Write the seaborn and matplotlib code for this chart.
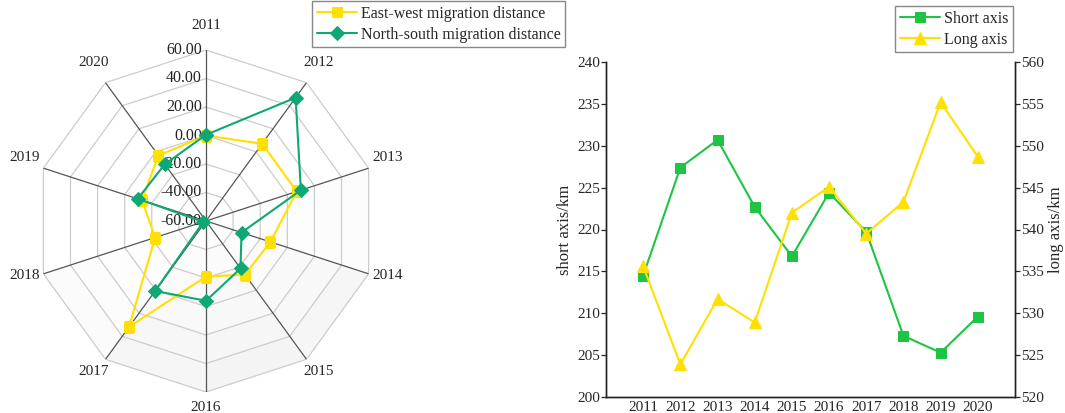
import numpy as np
import matplotlib
matplotlib.use('Agg')
import matplotlib.pyplot as plt
import seaborn as sns

# data
years = [2011, 2012, 2013, 2014, 2015, 2016, 2017, 2018, 2019, 2020]
east_west = [0.0, 7.0, 7.0, -12.5, -13.5, -21.0, 32.0, -22.5, -12.7, -3.2]
north_south = [0.5, 47.0, 10.0, -33.8, -18.8, -4.0, 0.7, -58.0, -9.6, -10.8]
radar_rings = [-60, -40, -20, 0, 20, 40, 60]

short_axis = [214.5, 227.4, 230.7, 222.7, 216.8, 224.4, 219.7, 207.3, 205.3, 209.6]
long_axis = [535.6, 523.9, 531.7, 528.9, 542.0, 545.1, 539.5, 543.3, 555.2, 548.7]

YELLOW = '#FFE000'
GREEN_RADAR = '#0FA874'
GREEN_LINE = '#1FC445'

sns.set_style('white')
plt.rcParams['font.family'] = ['Liberation Serif', 'DejaVu Serif']
plt.rcParams['axes.unicode_minus'] = True

fig = plt.figure(figsize=(10.65, 4.13), dpi=100)

# ---------------- radar ----------------
ax = fig.add_axes([35 / 1065, 1 - 392 / 413, 342 / 1065, 342 / 413], projection='polar')
ax.set_theta_zero_location('N')
ax.set_theta_direction(-1)
ax.set_ylim(-60, 60)

n = len(years)
theta = np.linspace(0, 2 * np.pi, n, endpoint=False)
theta_c = np.append(theta, 2 * np.pi)

# faint shading on the lower wedges
for i in range(n):
    t0, t1 = theta_c[i], theta_c[i + 1]
    mid = (t0 + t1) / 2
    light = max(0.0, -np.cos(mid + 0.3))
    if light <= 0.05:
        continue
    for k in range(len(radar_rings) - 1):
        r0, r1 = radar_rings[k], radar_rings[k + 1]
        g = 1 - light * (0.008 + 0.007 * k)
        ax.fill([t0, t0, t1, t1], [r0, r1, r1, r0], color=(g, g, g), lw=0, zorder=0)

for r in radar_rings[1:]:
    ax.plot(theta_c, [r] * (n + 1), color='#cccccc', lw=0.9, zorder=1)
for t in theta:
    ax.plot([t, t], [-60, 60], color='#555555', lw=0.9, zorder=1)

sns.lineplot(x=theta_c, y=east_west + east_west[:1], sort=False, errorbar=None,
             color=YELLOW, lw=1.5, marker='s', markersize=7, markeredgecolor=YELLOW,
             label='East-west migration distance', ax=ax, zorder=3)
sns.lineplot(x=theta_c, y=north_south + north_south[:1], sort=False, errorbar=None,
             color=GREEN_RADAR, lw=1.5, marker='D', markersize=7, markeredgecolor=GREEN_RADAR,
             label='North-south migration distance', ax=ax, zorder=4)

ax.grid(False)
ax.spines['polar'].set_visible(False)
ax.set_facecolor('white')
ax.set_xticks(theta)
ax.set_xticklabels([])
ax.set_yticks([])
ax.set_xlabel('')
ax.set_ylabel('')
for t, y in zip(theta, years):
    ax.annotate(str(y), xy=(t, 74), xytext=(0, 3), textcoords='offset points',
                ha='center', va='center', fontsize=11, annotation_clip=False)
for r in radar_rings:
    ax.annotate(f'{r:.2f}', xy=(0, r), xytext=(-3, 0), textcoords='offset points',
                ha='right', va='center', fontsize=11.5, color='#222222', zorder=2)

h1, l1 = ax.get_legend_handles_labels()
ax.get_legend().remove()
fig.legend(h1, l1, loc='upper left', bbox_to_anchor=(312 / 1065, 1 - 1 / 413),
           fontsize=11.5, frameon=True, fancybox=False, edgecolor='#888888',
           framealpha=1, handlelength=2.5, handletextpad=0.25, labelspacing=0.3,
           borderpad=0.3, borderaxespad=0)

# ---------------- line chart ----------------
ax1 = fig.add_axes([606 / 1065, 1 - 397 / 413, 409 / 1065, 335 / 413])
ax2 = ax1.twinx()

sns.lineplot(x=years, y=short_axis, color=GREEN_LINE, lw=1.5, marker='s', markersize=7,
             markeredgecolor=GREEN_LINE, label='Short axis', ax=ax1)
sns.lineplot(x=years, y=long_axis, color=YELLOW, lw=1.5, marker='^', markersize=9,
             markeredgecolor=YELLOW, label='Long axis', ax=ax2)

ax1.set_xlim(2010, 2021)
ax1.set_ylim(200, 240)
ax2.set_ylim(520, 560)
ax1.set_yticks(np.arange(200, 241, 5))
ax2.set_yticks(np.arange(520, 561, 5))
ax1.set_xticks(years)
ax1.set_xticklabels([str(y) for y in years])
ax1.set_xticks(np.arange(2010.5, 2021, 1), minor=True)
ax1.tick_params(axis='x', which='major', length=0, pad=3, labelsize=11)
ax1.tick_params(axis='x', which='minor', direction='in', length=4, width=0.9, color='#222222')
ax1.tick_params(axis='y', direction='out', length=3.5, width=0.9, pad=1, labelsize=11, left=True)
ax2.tick_params(axis='y', direction='out', length=3.5, width=0.9, pad=1, labelsize=11, right=True)

for a in (ax1, ax2):
    a.spines['top'].set_visible(False)
    for s in ('left', 'right', 'bottom'):
        a.spines[s].set_color('#222222')
        a.spines[s].set_linewidth(1.0)
    a.set_xlabel('')
ax1.set_ylabel('short axis/km', fontsize=12, labelpad=3)
ax2.set_ylabel('long axis/km', fontsize=12, labelpad=3)

ha, la = ax1.get_legend_handles_labels()
hb, lb = ax2.get_legend_handles_labels()
ax1.get_legend().remove()
ax2.get_legend().remove()
fig.legend(ha + hb, la + lb, loc='upper right', bbox_to_anchor=(1013 / 1065, 1 - 6 / 413),
           fontsize=11.5, frameon=True, fancybox=False, edgecolor='#888888',
           framealpha=1, handlelength=2.5, handletextpad=0.25, labelspacing=0.3,
           borderpad=0.3, borderaxespad=0)

fig.savefig('out.png', dpi=100)
